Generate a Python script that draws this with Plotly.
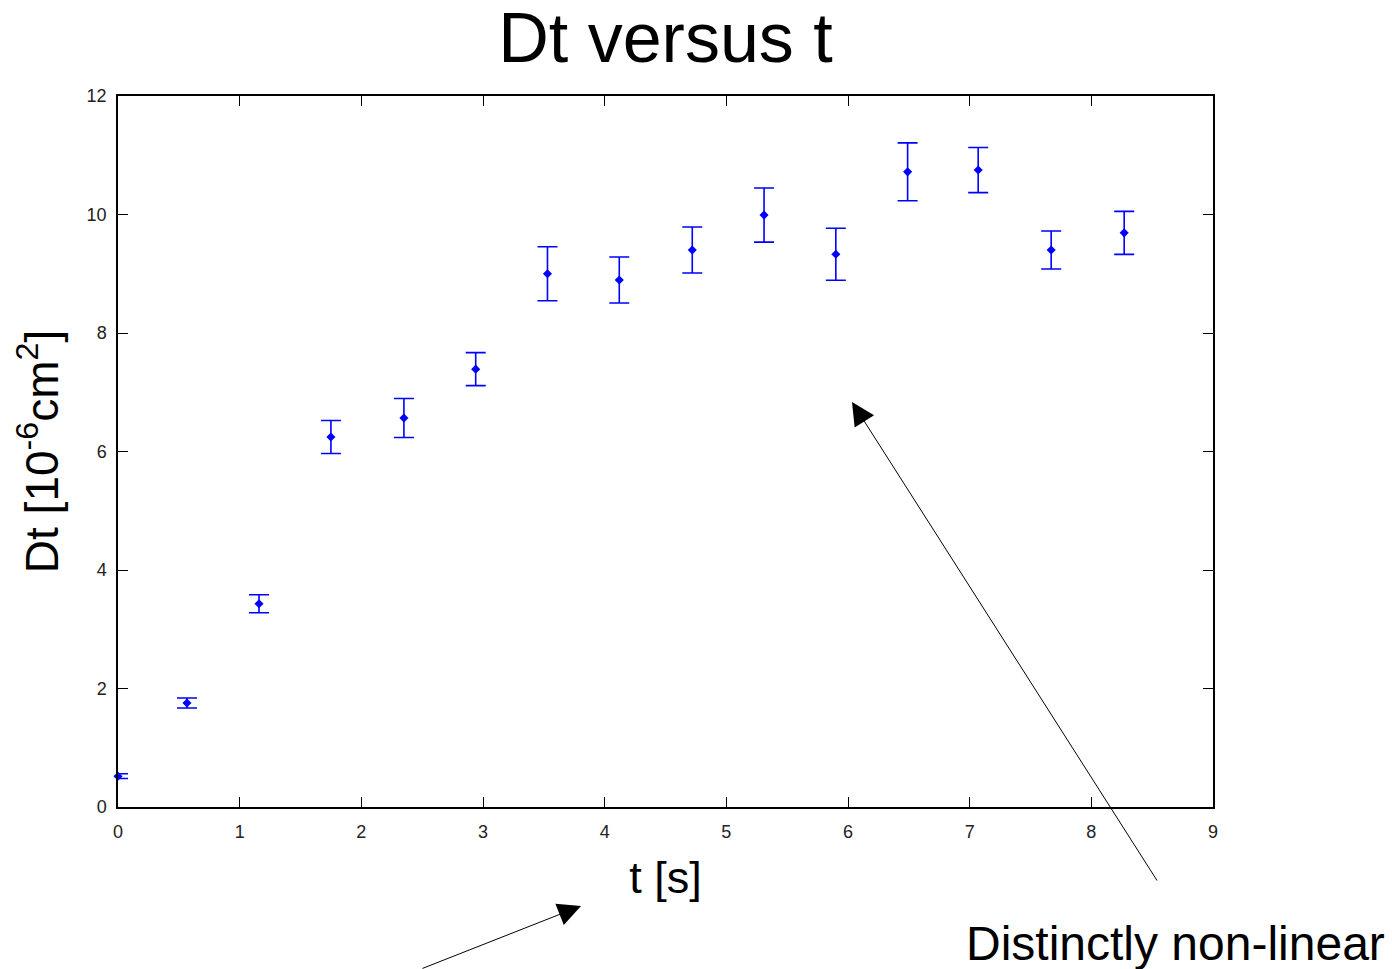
import plotly.graph_objects as go

# Measured diffusion term Dt against time, with one-sigma uncertainties
t_s = [0.0, 0.567, 1.159, 1.75, 2.35, 2.94, 3.53, 4.12, 4.72, 5.31, 5.90, 6.49, 7.07, 7.67, 8.27]
dt_vals = [0.52, 1.755, 3.43, 6.245, 6.565, 7.39, 9.0, 8.895, 9.40, 9.99, 9.33, 10.72, 10.75, 9.40, 9.69]
dt_err = [0.04, 0.084, 0.152, 0.278, 0.329, 0.278, 0.456, 0.388, 0.388, 0.456, 0.439, 0.489, 0.38, 0.321, 0.363]

x_ticks = [0, 1, 2, 3, 4, 5, 6, 7, 8, 9]
y_ticks = [0, 2, 4, 6, 8, 10, 12]

W, H = 1392, 969
L, R, T, B = 118, 179, 96, 162
plot_w, plot_h = W - L - R, H - T - B


def px_to_paper(px, py):
    return (px - L) / plot_w, (H - B - py) / plot_h


fig = go.Figure()
fig.add_trace(go.Scatter(
    x=t_s, y=dt_vals,
    mode="markers",
    marker=dict(symbol="diamond", size=7, color="#0000ff"),
    error_y=dict(type="data", array=dt_err, visible=True,
                 color="#0000ff", thickness=1.6, width=10),
    cliponaxis=False,
    showlegend=False,
))

tick_font = dict(family="Liberation Sans, Arial, sans-serif", size=18, color="#222222")
axis_common = dict(
    showgrid=False, zeroline=False,
    showline=True, linecolor="#000000", linewidth=1.5, mirror="allticks",
    ticks="inside", ticklen=10, tickwidth=1.2, tickcolor="#000000",
    tickfont=tick_font,
)

fig.update_xaxes(
    range=[0, 9], tickvals=x_ticks, ticktext=[str(v) for v in x_ticks],
    title=dict(text="t [s]", font=dict(family="Liberation Sans, Arial, sans-serif", size=45, color="#000000"),
               standoff=20),
    ticklabelstandoff=8,
    **axis_common,
)
fig.update_yaxes(
    range=[0, 12], tickvals=y_ticks, ticktext=[str(v) for v in y_ticks],
    title=dict(text="Dt [10<sup>-6</sup>cm<sup>2</sup>]",
               font=dict(family="Liberation Sans, Arial, sans-serif", size=46, color="#000000"),
               standoff=14),
    ticklabelstandoff=6,
    **axis_common,
)

# Callout arrows and note
hx, hy = px_to_paper(852, 402)
fig.add_annotation(x=hx, y=hy, xref="paper", yref="paper", ax=306, ay=480,
                   showarrow=True, arrowhead=2, arrowsize=4.6, arrowwidth=1,
                   arrowcolor="#000000", text="")
hx2, hy2 = px_to_paper(581, 906)
fig.add_annotation(x=hx2, y=hy2, xref="paper", yref="paper", ax=-160, ay=68,
                   showarrow=True, arrowhead=2, arrowsize=4.6, arrowwidth=1,
                   arrowcolor="#000000", text="")
nx, ny = px_to_paper(964, 943)
fig.add_annotation(x=nx, y=ny, xref="paper", yref="paper", xanchor="left", yanchor="middle",
                   showarrow=False, text="Distinctly non-linear",
                   font=dict(family="Liberation Sans, Arial, sans-serif", size=48, color="#000000"))

fig.update_layout(
    width=W, height=H,
    margin=dict(l=L, r=R, t=T, b=B),
    paper_bgcolor="#ffffff", plot_bgcolor="#ffffff",
    title=dict(text="Dt versus t", x=(L + plot_w / 2) / W, xanchor="center",
               y=1 - 37 / H, yanchor="middle",
               font=dict(family="Liberation Sans, Arial, sans-serif", size=70, color="#000000")),
)

fig.write_html("out.html")
